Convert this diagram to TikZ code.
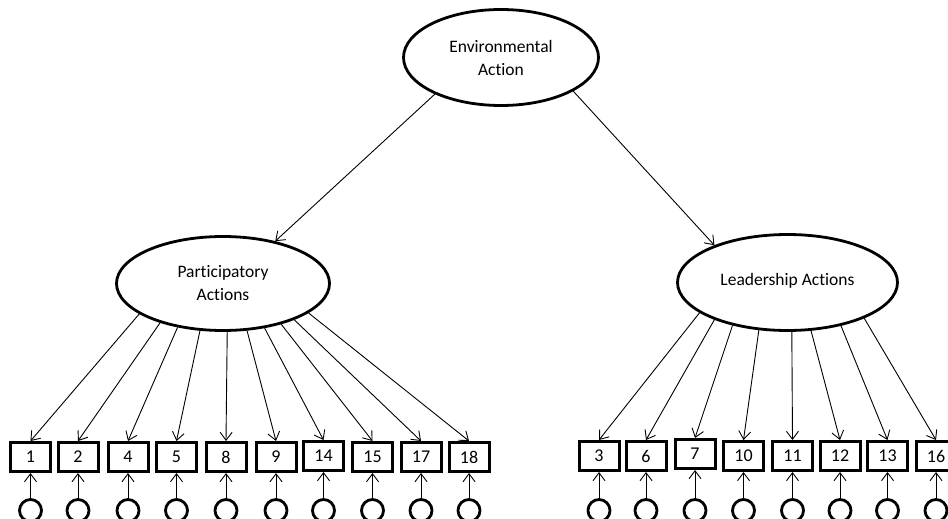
\documentclass[tikz,border=0pt]{standalone}
\usepackage{fontspec}
\setmainfont[RawFeature=-liga]{Carlito}
\usetikzlibrary{shapes.geometric,arrows.meta}
\begin{document}
\begin{tikzpicture}[x=1pt,y=-1pt,
  latent/.style={ellipse,draw,line width=2.8pt,inner sep=0pt,align=center,font=\fontsize{17.5}{23}\selectfont},
  indbox/.style={rectangle,draw,line width=3pt,minimum width=40pt,minimum height=29pt,inner sep=0pt,font=\fontsize{18}{20}\selectfont},
  errc/.style={circle,draw,line width=2.8pt,minimum size=22pt,inner sep=0pt},
  conn/.style={line width=0.9pt,-{Straight Barb[length=8pt,width=12pt]}}
]
\useasboundingbox (0,0) rectangle (948,519);
\clip (0,0) rectangle (948,519);

\node[latent,minimum width=195pt,minimum height=96pt] (E) at (501,57.5) {Environmental\\Action};
\node[latent,minimum width=213pt,minimum height=94pt] (P) at (223,283.5) {Participatory\\Actions};
\node[latent,minimum width=220pt,minimum height=96pt] (L) at (787.5,282.5) {\raisebox{6pt}{Leadership Actions}};

\draw[conn] (E.-151.5) -- (P.39.6);
\draw[conn] (E.-25.6) -- (L.153.6);

\foreach \x/\y/\l/\a in {30.5/457/1/-160.1, 78/457/2/-148.5, 128/457/4/-136, 176.5/457/5/-116.8,
  226/457/8/-85.6, 276/457/9/-63.7, 323.5/456/14/-47.2, 372.5/457/15/-35.5, 421/457/17/-27.8, 469/457/18/-19.5}{
  \node[indbox] (b\l) at (\x,\y) {\l};
  \node[errc] (c\l) at (\x,510.5) {};
  \draw[conn] (P.\a) -- (b\l.north);
  \draw[conn] (c\l.north) -- (b\l.south);
}

\foreach \x/\y/\l/\a in {599/456/3/-161, 646/456/6/-153.6, 695/454/7/-142.6, 743.5/456/10/-121.9,
  792.5/456/11/-85.3, 840/456/12/-64.6, 887.5/456/13/-39.8, 936/456/16/-25.5}{
  \node[indbox] (b\l) at (\x,\y) {\l};
  \node[errc] (c\l) at (\x,510.5) {};
  \draw[conn] (L.\a) -- (b\l.north);
  \draw[conn] (c\l.north) -- (b\l.south);
}
\end{tikzpicture}
\end{document}
